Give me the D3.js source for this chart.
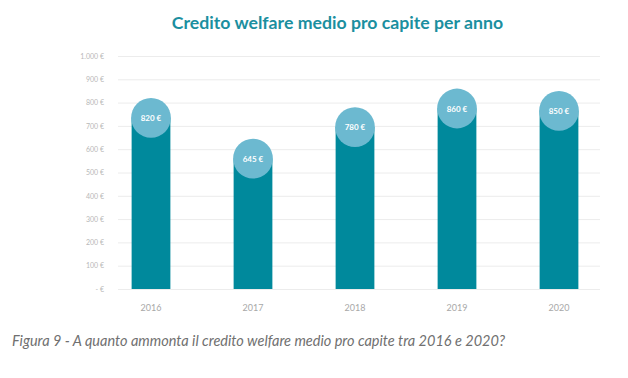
<!DOCTYPE html>
<html><head><meta charset="utf-8">
<script src="https://cdn.jsdelivr.net/npm/d3@7"></script>
<style>body{margin:0;background:#fff;}svg{display:block;}</style>
</head><body>
<svg id="c" width="628" height="378"></svg>
<script>
const years = ["2016","2017","2018","2019","2020"];
const values = [820, 645, 780, 860, 850];
const valueLabels = ["820 €","645 €","780 €","860 €","850 €"];
const yTicks = [0,100,200,300,400,500,600,700,800,900,1000];
const yTickLabels = ["- €","100 €","200 €","300 €","400 €","500 €","600 €","700 €","800 €","900 €","1.000 €"];
const title = "Credito welfare medio pro capite per anno";
const caption = "Figura 9 - A quanto ammonta il credito welfare medio pro capite tra 2016 e 2020?";

const svg = d3.select("#c");
const x = d3.scaleBand().domain(years).range([100, 610]).paddingInner(0.62).paddingOuter(0.31);
const y = d3.scaleLinear().domain([0,1000]).range([289, 56]);

svg.append("text").attr("x",337.5).attr("y",29).attr("text-anchor","middle")
  .attr("font-family","Lato, 'Noto Sans', sans-serif").attr("font-weight","bold").attr("font-size",17.7)
  .attr("fill","#1b8fa0").text(title);

const ya = svg.append("g").attr("transform","translate(118,0)")
  .call(d3.axisLeft(y).tickValues(yTicks).tickSize(-482).tickPadding(14).tickFormat((d,i)=>yTickLabels[i]));
ya.select(".domain").remove();
ya.selectAll(".tick line").attr("stroke","#ececec").attr("stroke-width",1);
ya.selectAll(".tick text").attr("fill","#b8b8b8").attr("font-family","Lato, sans-serif").attr("font-size",7);

const xa = svg.append("g").attr("transform","translate(0,289)")
  .call(d3.axisBottom(x).tickSize(0).tickPadding(16));
xa.select(".domain").remove();
xa.selectAll(".tick text").attr("fill","#a8a8a8").attr("font-family","Lato, sans-serif").attr("font-size",9);

const r = x.bandwidth()/2 + 0.5;
const g = svg.append("g");
years.forEach((yr,i)=>{
  const cx = x(yr) + x.bandwidth()/2;
  const top = y(values[i]);
  g.append("rect").attr("x",x(yr)).attr("y",top + r).attr("width",x.bandwidth())
    .attr("height",y(0) - top - r).attr("fill","#00899c");
  g.append("circle").attr("cx",cx).attr("cy",top + r).attr("r",r).attr("fill","#6cb9d0");
  g.append("text").attr("x",cx).attr("y",top + r + 3).attr("text-anchor","middle")
    .attr("font-family","Lato, sans-serif").attr("font-weight","bold").attr("font-size",8)
    .attr("fill","#fff").text(valueLabels[i]);
});

svg.append("text").attr("x",12).attr("y",346)
  .attr("font-family","Lato, 'Noto Sans', sans-serif").attr("font-style","italic").attr("font-size",14.5)
  .attr("fill","#707070").text(caption);
</script>
</body></html>
